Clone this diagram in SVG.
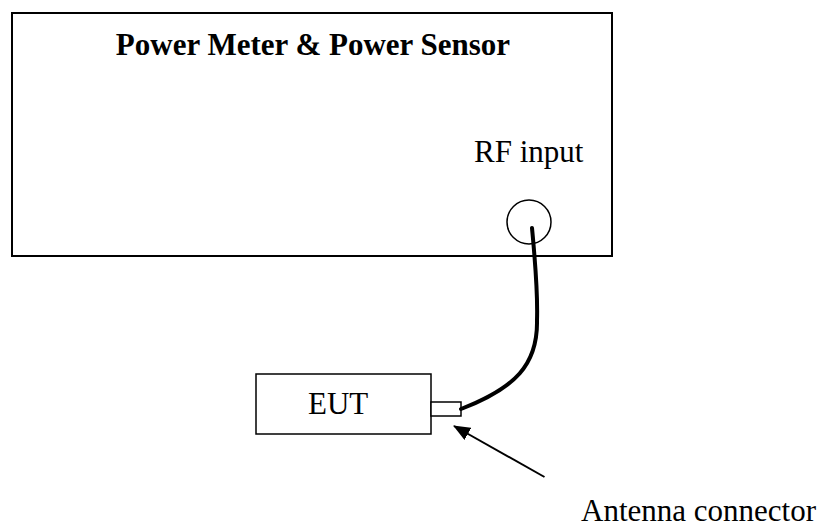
<svg xmlns="http://www.w3.org/2000/svg" width="823" height="528" viewBox="0 0 823 528">
  <style>
    .box { fill: #ffffff; stroke: #000000; stroke-width: 2; }
    .thin { fill: #ffffff; stroke: #000000; stroke-width: 1.5; }
    .lbl { font-family: "Liberation Serif", "Times New Roman", serif; font-size: 31px; fill: #000000; }
    .bold { font-weight: bold; }
    .cable { fill: none; stroke: #000000; stroke-width: 4; stroke-linecap: round; }
    .arrow { fill: none; stroke: #000000; stroke-width: 2; }
  </style>
  <defs>
    <marker id="ah" markerWidth="17" markerHeight="14" refX="16" refY="7" orient="auto" markerUnits="userSpaceOnUse" viewBox="0 0 17 14">
      <path d="M0,0 L17,7 L0,14 Z" fill="#000000"/>
    </marker>
  </defs>
  <rect width="823" height="528" fill="#ffffff"/>
  <g id="power-meter">
    <rect class="box" x="12" y="13" width="600" height="243"/>
    <text class="lbl bold" x="313" y="55" text-anchor="middle">Power Meter &amp; Power Sensor</text>
    <text class="lbl" x="474" y="162">RF input</text>
    <circle class="thin" cx="529" cy="222" r="22"/>
  </g>
  <g id="eut">
    <rect class="thin" x="256" y="374" width="175" height="60"/>
    <text class="lbl" x="308" y="414">EUT</text>
    <rect id="antenna-connector-port" class="thin" x="431" y="402" width="30" height="14"/>
  </g>
  <g id="connectors">
    <path class="cable" d="M532,228 C535,260 538,290 537,320 C538,365 515,388 461,409"/>
    <line class="arrow" x1="544.5" y1="477" x2="454" y2="426" marker-end="url(#ah)"/>
  </g>
  <g id="antenna-label">
    <text class="lbl" x="581" y="521">Antenna connector</text>
  </g>
</svg>
